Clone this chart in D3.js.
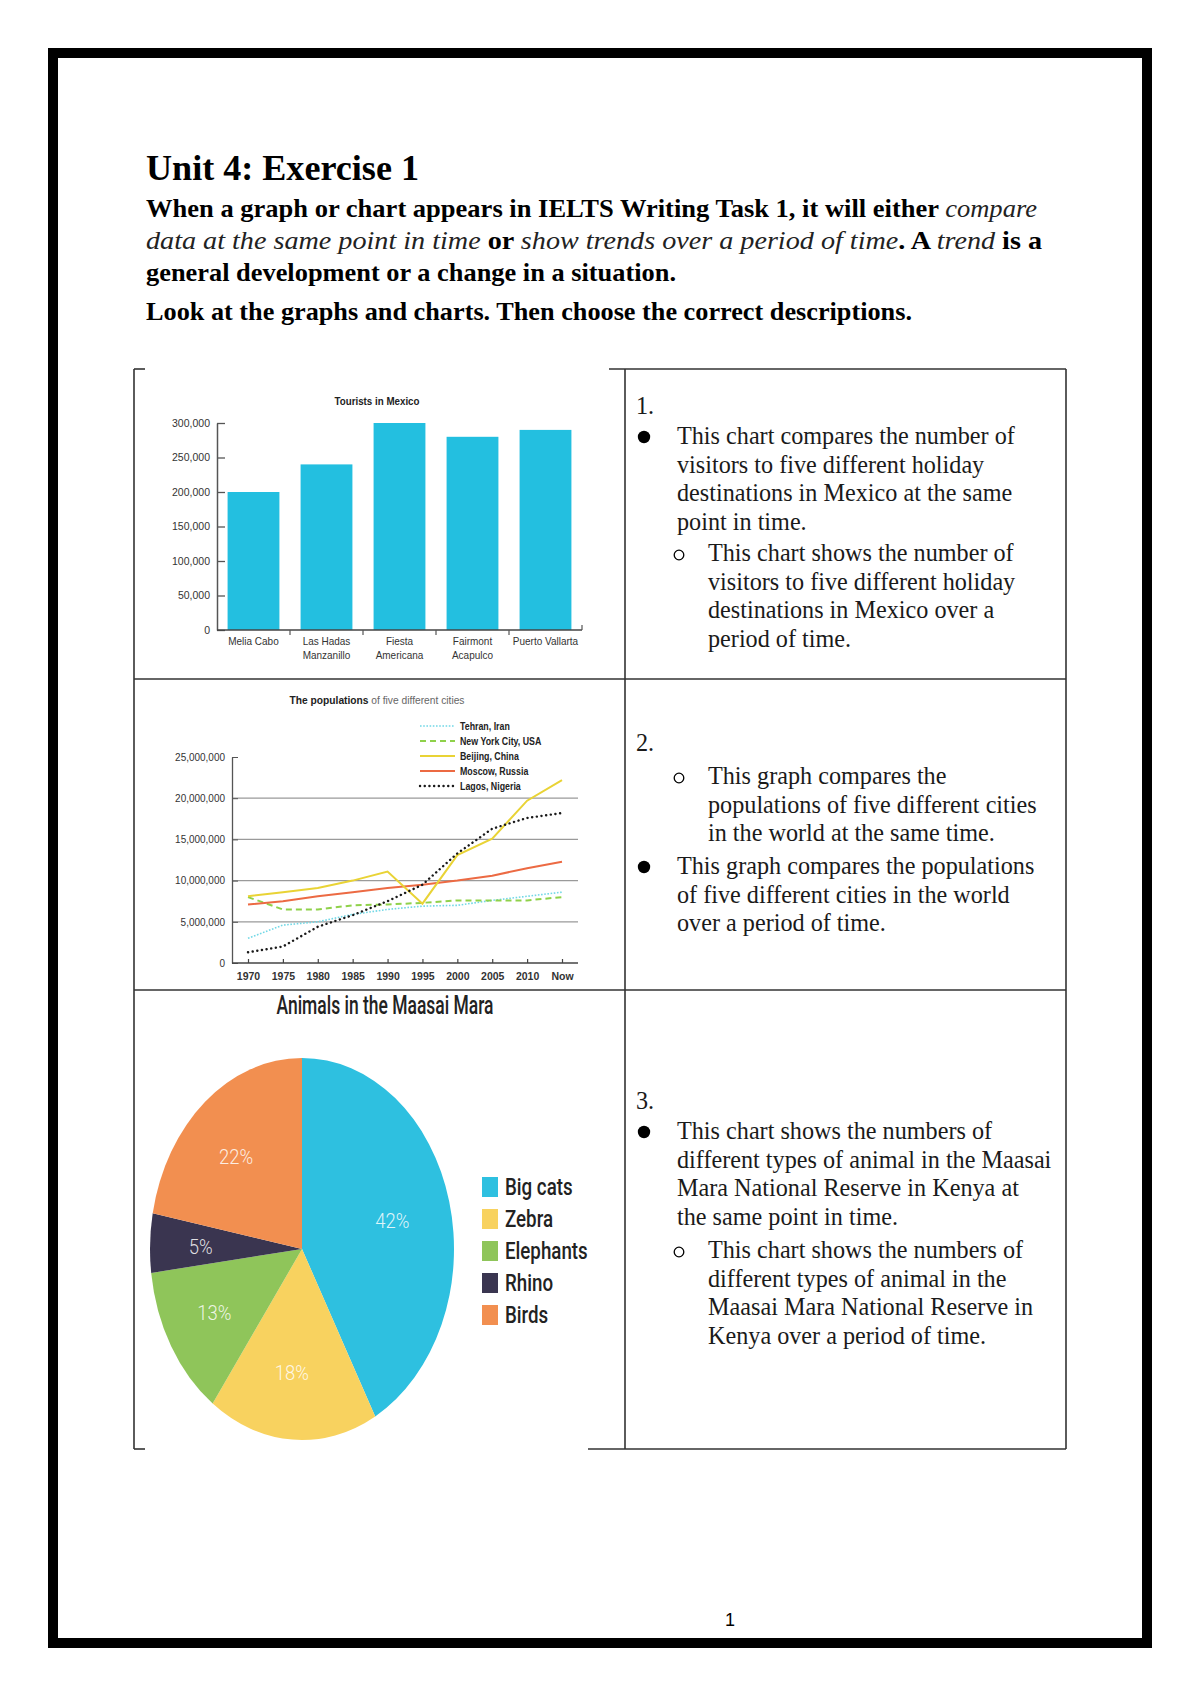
<!DOCTYPE html>
<html><head><meta charset="utf-8">
<script src="https://cdn.jsdelivr.net/npm/d3@7"></script>
<style>body{margin:0;background:#fff}svg{display:block}</style>
</head><body>
<svg id="page" width="1200" height="1696"></svg>
<script>
// ---------------- DATA ----------------
const barCategories = ["Melia Cabo", "Las Hadas Manzanillo", "Fiesta Americana", "Fairmont Acapulco", "Puerto Vallarta"];
const barLabelLines = [["Melia Cabo"], ["Las Hadas", "Manzanillo"], ["Fiesta", "Americana"], ["Fairmont", "Acapulco"], ["Puerto Vallarta"]];
const barValues = [200000, 240000, 300000, 280000, 290000];
const barTicks = [0, 50000, 100000, 150000, 200000, 250000, 300000];

const years = ["1970", "1975", "1980", "1985", "1990", "1995", "2000", "2005", "2010", "Now"];
const cityNames = ["Tehran, Iran", "New York City, USA", "Beijing, China", "Moscow, Russia", "Lagos, Nigeria"];
const tehran  = [3.0e6, 4.6e6, 5.0e6, 5.9e6, 6.5e6, 6.9e6, 7.0e6, 7.6e6, 8.1e6, 8.6e6];
const newYork = [8.0e6, 6.5e6, 6.5e6, 7.0e6, 7.1e6, 7.3e6, 7.6e6, 7.6e6, 7.6e6, 8.0e6];
const beijing = [8.1e6, 8.6e6, 9.1e6, 10.0e6, 11.1e6, 7.2e6, 13.1e6, 15.1e6, 19.7e6, 22.2e6];
const moscow  = [7.1e6, 7.5e6, 8.1e6, 8.6e6, 9.1e6, 9.5e6, 10.0e6, 10.6e6, 11.5e6, 12.3e6];
const lagos   = [1.3e6, 2.0e6, 4.4e6, 5.8e6, 7.5e6, 9.5e6, 13.3e6, 16.3e6, 17.6e6, 18.2e6];
const popTicks = [0, 5e6, 10e6, 15e6, 20e6, 25e6];

const animals = ["Big cats", "Zebra", "Elephants", "Rhino", "Birds"];
const animalShares = [42, 18, 13, 5, 22];

const item1Bullet = ["This chart compares the number of", "visitors to five different holiday", "destinations in Mexico at the same", "point in time."];
const item1Circle = ["This chart shows the number of", "visitors to five different holiday", "destinations in Mexico over a", "period of time."];
const item2Circle = ["This graph compares the", "populations of five different cities", "in the world at the same time."];
const item2Bullet = ["This graph compares the populations", "of five different cities in the world", "over a period of time."];
const item3Bullet = ["This chart shows the numbers of", "different types of animal in the Maasai", "Mara National Reserve in Kenya at", "the same point in time."];
const item3Circle = ["This chart shows the numbers of", "different types of animal in the", "Maasai Mara National Reserve in", "Kenya over a period of time."];

// ---------------- PAGE ----------------
const svg = d3.select("#page");
const SERIF = "'Liberation Serif','Times New Roman',serif";
const SANS = "'Liberation Sans',Arial,sans-serif";
const ROBO = "Roboto,'Liberation Sans',sans-serif";

function fitTo(sel, w) { sel.attr("textLength", w).attr("lengthAdjust", "spacingAndGlyphs"); }
function condense(sel, k) {
  sel.each(function () {
    const L = this.getComputedTextLength();
    d3.select(this).attr("textLength", L * k).attr("lengthAdjust", "spacingAndGlyphs");
  });
}

// outer page border
svg.append("rect").attr("x", 53).attr("y", 53).attr("width", 1094).attr("height", 1590)
  .attr("fill", "none").attr("stroke", "#000").attr("stroke-width", 10);

// heading
svg.append("text").attr("x", 146).attr("y", 180).attr("font-family", SERIF).attr("font-weight", "bold")
  .attr("font-size", 36).attr("fill", "#000").text("Unit 4: Exercise 1").call(fitTo, 273);

function richLine(y, parts, w) {
  const t = svg.append("text").attr("x", 146).attr("y", y).attr("font-family", SERIF).attr("font-size", 24.5).attr("fill", "#000");
  parts.forEach(p => {
    t.append("tspan").attr("font-style", p[1] ? "italic" : "normal").attr("font-weight", p[1] ? "normal" : "bold")
      .attr("fill", p[1] ? "#222" : "#000").text(p[0]);
  });
  t.call(fitTo, w);
}
richLine(217, [["When a graph or chart appears in IELTS Writing Task 1, it will either ", 0], ["compare", 1]], 891);
richLine(249, [["data at the same point in time", 1], [" or ", 0], ["show trends over a period of time", 1], [". A ", 0], ["trend", 1], [" is a", 0]], 896);
richLine(281, [["general development or a change in a situation.", 0]], 530);
richLine(320, [["Look at the graphs and charts. Then choose the correct descriptions.", 0]], 766);

// table lines
const tl = svg.append("g").attr("stroke", "#333").attr("stroke-width", 1.6).attr("fill", "none");
[[134, 369, 134, 1449], [134, 369, 145, 369], [134, 1449, 145, 1449], [609, 369, 1066, 369], [588, 1449, 1066, 1449],
 [625, 369, 625, 1449], [1066, 369, 1066, 1449], [134, 679, 1066, 679], [134, 990, 1066, 990]]
  .forEach(l => tl.append("line").attr("x1", l[0]).attr("y1", l[1]).attr("x2", l[2]).attr("y2", l[3]));

// ---------------- BAR CHART ----------------
const bar = svg.append("g");
const bx = d3.scaleBand().domain(barCategories).range([217, 582]).paddingInner(0.29).paddingOuter(0.145);
const by = d3.scaleLinear().domain([0, 300000]).range([630, 423]);
bar.append("text").attr("x", 377).attr("y", 405).attr("text-anchor", "middle").attr("font-family", SANS)
  .attr("font-weight", "bold").attr("font-size", 10.5).attr("fill", "#222").text("Tourists in Mexico").call(fitTo, 85);
bar.selectAll("rect.b").data(barValues).join("rect").attr("class", "b")
  .attr("x", (d, i) => bx(barCategories[i])).attr("y", d => by(d))
  .attr("width", bx.bandwidth()).attr("height", d => by(0) - by(d)).attr("fill", "#23bfe0");
const byAxis = bar.append("g").attr("transform", "translate(217,0)")
  .call(d3.axisLeft(by).tickValues(barTicks).tickSizeInner(-8).tickSizeOuter(0).tickPadding(7).tickFormat(d3.format(",")));
byAxis.select(".domain").attr("stroke", "#555").attr("stroke-width", 1.5);
byAxis.selectAll(".tick line").attr("stroke", "#555").attr("stroke-width", 1.3);
byAxis.selectAll(".tick text").attr("font-family", SANS).attr("font-size", 10.5).attr("fill", "#333");
bar.append("line").attr("x1", 217).attr("x2", 582).attr("y1", by(0)).attr("y2", by(0)).attr("stroke", "#444").attr("stroke-width", 1.6);
barCategories.forEach((c, i) => {
  const bnd = bx(c) + bx.bandwidth() + (bx.step() - bx.bandwidth()) / 2;
  bar.append("line").attr("x1", bnd).attr("x2", bnd).attr("y1", by(0) - (i === 4 ? 5 : 0)).attr("y2", by(0) + (i === 4 ? 0 : 5))
    .attr("stroke", "#555").attr("stroke-width", 1.2);
  barLabelLines[i].forEach((ln, j) => {
    bar.append("text").attr("x", bx(c) + bx.bandwidth() / 2).attr("y", 645 + j * 14).attr("text-anchor", "middle")
      .attr("font-family", SANS).attr("font-size", 10.5).attr("fill", "#333").text(ln).call(condense, 0.95);
  });
});

// ---------------- LINE CHART ----------------
const lc = svg.append("g");
const lx = d3.scalePoint().domain(years).range([248, 562]);
const ly = d3.scaleLinear().domain([0, 25e6]).range([963, 757]);
const ttl = lc.append("text").attr("x", 377).attr("y", 704).attr("text-anchor", "middle").attr("font-family", SANS)
  .attr("font-size", 10).attr("fill", "#222");
ttl.append("tspan").attr("font-weight", "bold").text("The populations ");
ttl.append("tspan").attr("fill", "#666").text("of five different cities");
ttl.call(fitTo, 175);
popTicks.filter(t => t > 0 && t < 25e6).forEach(t => {
  lc.append("line").attr("x1", 232).attr("x2", 578).attr("y1", ly(t)).attr("y2", ly(t)).attr("stroke", "#9a9a9a").attr("stroke-width", 1.3);
});
const lyAxis = lc.append("g").attr("transform", "translate(232,0)")
  .call(d3.axisLeft(ly).tickValues(popTicks).tickSizeInner(-6).tickSizeOuter(0).tickPadding(7).tickFormat(d3.format(",")));
lyAxis.select(".domain").attr("stroke", "#555").attr("stroke-width", 1.3);
lyAxis.selectAll(".tick line").attr("stroke", "#555");
lyAxis.selectAll(".tick text").attr("font-family", SANS).attr("font-size", 10.5).attr("fill", "#333").call(condense, 0.95);
const lxAxis = lc.append("g").attr("transform", "translate(0,963)")
  .call(d3.axisBottom(lx).tickSizeInner(-4).tickSizeOuter(0).tickPadding(10));
lxAxis.select(".domain").attr("d", "M232,0H578").attr("stroke", "#444").attr("stroke-width", 1.5);
lxAxis.selectAll(".tick line").attr("stroke", "#444").attr("stroke-width", 1.2);
lxAxis.selectAll(".tick text").attr("font-family", SANS).attr("font-size", 10.5).attr("font-weight", "bold").attr("fill", "#333");

const series = [
  { name: cityNames[0], vals: tehran, color: "#72d8e6", w: 1.6, dash: "1.6,1.6", cap: "butt" },
  { name: cityNames[1], vals: newYork, color: "#8fd14a", w: 2, dash: "6,4", cap: "butt" },
  { name: cityNames[2], vals: beijing, color: "#e9d335", w: 2, dash: null, cap: "butt" },
  { name: cityNames[3], vals: moscow, color: "#ec6a43", w: 2, dash: null, cap: "butt" },
  { name: cityNames[4], vals: lagos, color: "#1a1a1a", w: 2.4, dash: "0.1,4.6", cap: "round" }
];
const lineGen = d3.line().x((d, i) => lx(years[i])).y(d => ly(d));
[0, 1, 3, 2, 4].forEach(k => {
  const s = series[k];
  lc.append("path").attr("d", lineGen(s.vals)).attr("fill", "none").attr("stroke", s.color)
    .attr("stroke-width", s.w).attr("stroke-dasharray", s.dash).attr("stroke-linecap", s.cap);
});
series.forEach((s, i) => {
  const y = 726 + i * 15;
  lc.append("line").attr("x1", 420).attr("x2", 455).attr("y1", y).attr("y2", y).attr("stroke", s.color)
    .attr("stroke-width", s.w).attr("stroke-dasharray", s.dash).attr("stroke-linecap", s.cap);
  lc.append("text").attr("x", 460).attr("y", y + 4).attr("font-family", SANS).attr("font-size", 10.5)
    .attr("font-weight", "bold").attr("fill", "#222").text(s.name).call(condense, 0.84);
});

// ---------------- PIE CHART ----------------
const pc = svg.append("g");
const pieColors = ["#2ec0e0", "#f8d25f", "#8fc55a", "#3a3550", "#f28f50"];
const cx = 302, cy = 1249, rx = 152, ry = 191;
pc.append("text").attr("x", 385).attr("y", 1014).attr("text-anchor", "middle").attr("font-family", ROBO)
  .attr("font-weight", 500).attr("font-size", 25).attr("fill", "#222").text("Animals in the Maasai Mara").call(fitTo, 217);
const arcs = d3.pie().sort(null).value(d => d)(animalShares);
const arc = d3.arc().innerRadius(0).outerRadius(100);
const pg = pc.append("g").attr("transform", `translate(${cx},${cy}) scale(${rx / 100},${ry / 100})`);
pg.selectAll("path").data(arcs).join("path").attr("d", arc).attr("fill", (d, i) => pieColors[i]);
const labelArc = d3.arc().innerRadius(64).outerRadius(64);
arcs.forEach((a, i) => {
  const c = labelArc.centroid(a);
  pc.append("text").attr("x", cx + c[0] * rx / 100 - 4).attr("y", cy + c[1] * ry / 100 + 9).attr("text-anchor", "middle")
    .attr("font-family", ROBO).attr("font-weight", 300).attr("font-size", 21).attr("fill", "#ffffff").attr("fill-opacity", 0.85)
    .text(animalShares[i] + "%").call(condense, 0.88);
});
animals.forEach((n, i) => {
  const y = 1187 + i * 32;
  pc.append("rect").attr("x", 482).attr("y", y - 10).attr("width", 16).attr("height", 20).attr("fill", pieColors[i]);
  pc.append("text").attr("x", 505).attr("y", y + 8).attr("font-family", ROBO).attr("font-weight", 500)
    .attr("font-size", 24).attr("fill", "#222").text(n).call(condense, 0.78);
});

// ---------------- RIGHT COLUMN TEXT ----------------
const rc = svg.append("g").attr("font-family", SERIF).attr("font-size", 24.2).attr("fill", "#1a1a1a");
function num(label, y) { rc.append("text").attr("x", 636).attr("y", y).text(label); }
function block(lines, y0, type) {
  const tx = type === "dot" ? 677 : 708;
  if (type === "dot") rc.append("circle").attr("cx", 644).attr("cy", y0 - 7).attr("r", 6.2).attr("fill", "#000");
  else rc.append("circle").attr("cx", 679).attr("cy", y0 - 6).attr("r", 4.8).attr("fill", "none").attr("stroke", "#000").attr("stroke-width", 1.3);
  lines.forEach((l, i) => rc.append("text").attr("x", tx).attr("y", y0 + i * 28.6).text(l));
}
num("1.", 414);
block(item1Bullet, 444, "dot");
block(item1Circle, 561, "circ");
num("2.", 751);
block(item2Circle, 784, "circ");
block(item2Bullet, 874, "dot");
num("3.", 1109);
block(item3Bullet, 1139, "dot");
block(item3Circle, 1258, "circ");

// page number
svg.append("text").attr("x", 730).attr("y", 1626).attr("text-anchor", "middle").attr("font-family", SANS)
  .attr("font-size", 18).attr("fill", "#000").text("1");
</script>
</body></html>
